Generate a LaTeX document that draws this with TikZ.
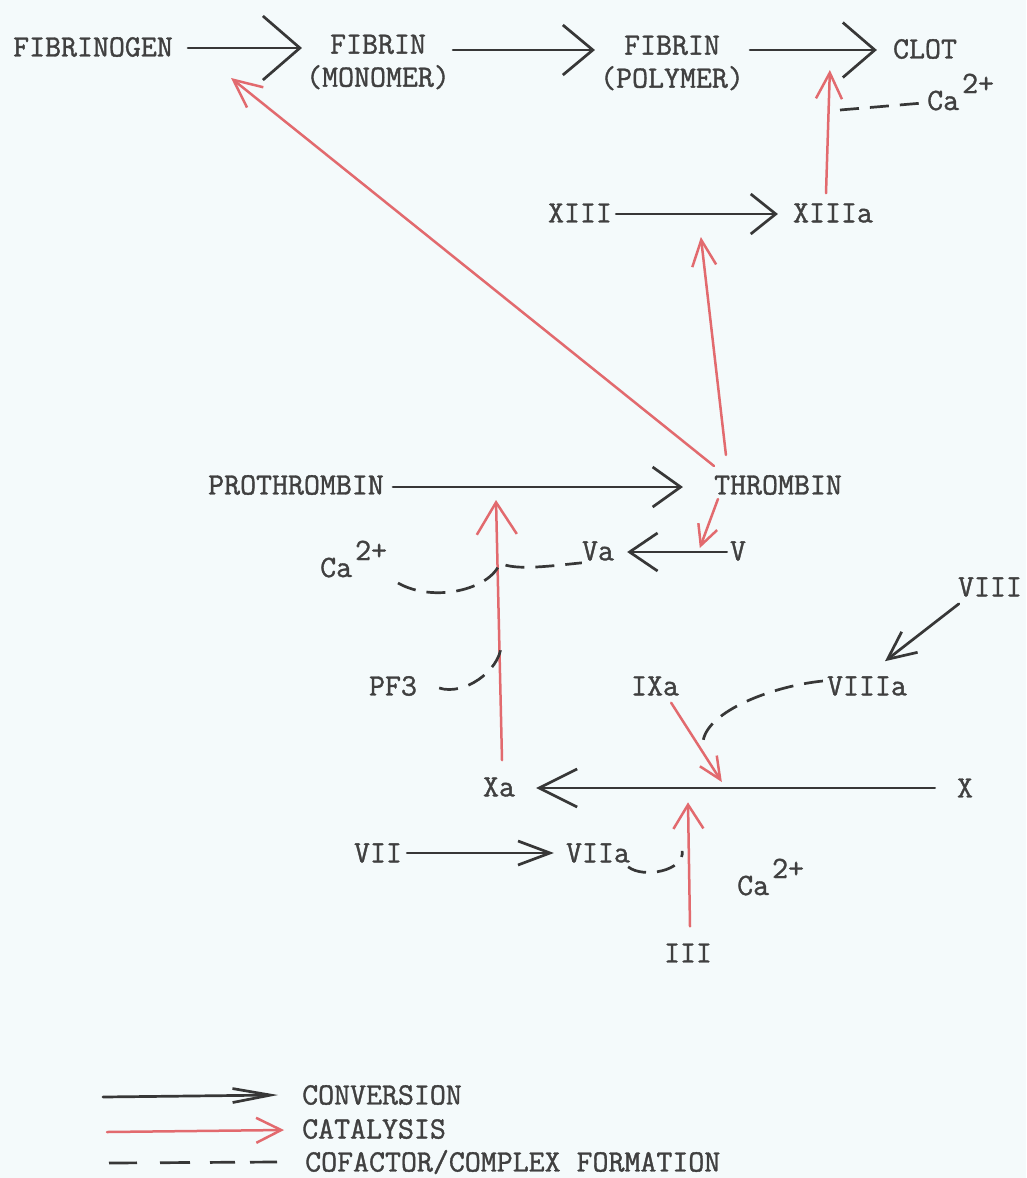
\documentclass[tikz,border=0pt]{standalone}
\usepackage{fontspec}
\newfontfamily\twfont{Latin Modern Mono}[FakeBold=1.2]
\usetikzlibrary{arrows.meta,calc}
\definecolor{bgc}{RGB}{244,250,251}
\definecolor{txtc}{RGB}{64,64,64}
\definecolor{linec}{RGB}{55,55,55}
\definecolor{redc}{RGB}{226,106,110}
\begin{document}
\begin{tikzpicture}[x=1pt,y=-1pt,
  lbl/.style={inner sep=0pt,text=txtc,font=\twfont\fontsize{31}{33}\selectfont,align=center},
  conv/.style 2 args={draw=linec,line width=2.7pt,line cap=round,-{Straight Barb[length=#1pt,width=#2pt]}},
  cat/.style 2 args={draw=redc,line width=2.5pt,line cap=round,-{Straight Barb[length=#1pt,width=#2pt]}},
  cof/.style={draw=linec,line width=2.7pt,dash pattern=on 19pt off 11pt}]
\fill[bgc] (0,0) rectangle (1026,1178);
\useasboundingbox (0,0) rectangle (1026,1178);

% top row
\node[lbl] (fbg) at (93,47) {FIBRINOGEN};
\node[lbl] (fbm) at (378,62) {FIBRIN\\(MONOMER)};
\node[lbl] (fbp) at (672,63) {FIBRIN\\(POLYMER)};
\node[lbl] (clot) at (925,49) {CLOT};
\node[lbl,anchor=base west] (ca1) at (927,110) {Ca\hspace{3pt}\raisebox{17pt}{2+}};

\draw[conv={37}{64}] ($(fbg.east)+(15,1)$) -- ($(fbg.east -| fbm.west)+(-4,1)$);
\draw[conv={30}{50}] ($(fbg.east -| fbm.east)+(3,3)$) -- ($(fbg.east -| fbp.west)+(-5,3)$);
\draw[conv={32}{55}] ($(clot.west -| fbp.east)+(6,1)$) -- ($(clot.west)+(-16,1)$);

% XIII
\node[lbl] (xiii) at (580,213) {XIII};
\node[lbl] (xiiia) at (833,213) {XIIIa};
\draw[conv={25}{40}] ($(xiii.east)+(4,1)$) -- ($(xiiia.west)+(-15,1)$);
\draw[cat={26}{26}] ($(xiiia.north)+(-7,-10)$) -- ($(clot.west)+(-63,21)$);
\draw[cof] ($(ca1.base west)+(-87,0)$) -- ($(ca1.base west)+(-4,-7)$);

% thrombin row
\node[lbl] (pro) at (296,485) {PROTHROMBIN};
\node[lbl] (thr) at (778,485) {THROMBIN};
\draw[conv={28}{40}] ($(pro.east)+(9,2)$) -- ($(thr.west)+(-31,2)$);
\draw[cat={26}{24}] ($(thr.north west)+(12,-20)$) -- ($(xiiia.west)+(-92,24)$);
\draw[cat={28}{26}] ($(thr.north west)+(0,-9)$) -- ($(fbg.east)+(58,31)$);

% V / Va
\node[lbl] (v) at (738,551) {V};
\node[lbl] (va) at (598,551) {Va};
\draw[conv={28}{38}] ($(v.west)+(-3,1)$) -- ($(va.east)+(13,1)$);
\draw[cat={20}{20}] ($(thr.south west)+(4,4)$) -- ($(v.west)+(-30,-3)$);

% Xa and cofactors
\node[lbl] (xa) at (499,787) {Xa};
\node[lbl,anchor=base west] (ca2) at (320,577) {Ca\hspace{3pt}\raisebox{17pt}{2+}};
\node[lbl] (pf3) at (393,686) {PF3};
\draw[cat={32}{40}] ($(xa.north)+(3,-17)$) -- ($(pro.east)+(112,15)$);
\draw[cof] ($(ca2.base west)+(78,6)$) .. controls +(35,20) and +(-10,27) .. ($(xa.north |- va.west)+(1,12)$)
  .. controls +(15,8) and +(-30,3) .. ($(va.south west)+(0,2)$);
\draw[cof] ($(pf3.east)+(22,2)$) .. controls +(25,8) and +(-2,25) .. ($(pf3.east)+(84,-40)$);

% IXa / VIIIa / VIII / X
\node[lbl] (ixa) at (655,686) {IXa};
\node[lbl] (viiia) at (867,686) {VIIIa};
\node[lbl] (viii) at (990,587) {VIII};
\node[lbl] (x) at (965,788) {X};
\draw[conv={38}{38}] ($(x.west)+(-22,0)$) -- ($(xa.east)+(21,1)$);
\draw[cat={22}{20}] ($(ixa.south east)+(-8,7)$) -- ($(x.west)+(-235,-6)$);
\draw[cof] ($(viiia.west)+(-4,-5)$) .. controls +(-50,5) and +(5,-30) .. ($(ixa.south east)+(24,45)$);
\draw[conv={28}{26}] ($(viii.south west)+(1,7)$) -- ($(viiia.north)+(18,-15)$);

% VII / III
\node[lbl] (vii) at (378,853) {VII};
\node[lbl] (viia) at (598,853) {VIIa};
\node[lbl] (iii) at (688,953) {III};
\node[lbl,anchor=base west] (ca3) at (737,895) {Ca\hspace{3pt}\raisebox{17pt}{2+}};
\draw[conv={32}{24}] ($(vii.east)+(5,0)$) -- ($(viia.west)+(-12,0)$);
\draw[cat={24}{30}] ($(iii.north)+(2,-17)$) -- ($(iii.north)+(0,-141)$);
\draw[cof] ($(viia.south east)+(-2,4)$) .. controls +(15,12) and +(3,20) .. ($(viia.south east)+(52,-12)$);

% legend
\node[lbl,anchor=west] (lconv) at (302,1095) {CONVERSION};
\node[lbl,anchor=west] (lcat) at (302,1129) {CATALYSIS};
\node[lbl,anchor=west] (lcof) at (305,1162) {COFACTOR/COMPLEX FORMATION};
\draw[conv={38}{14}] ($(lconv.west)+(-199,2)$) -- ($(lconv.west)+(-24,0)$);
\draw[cat={25}{25}] ($(lcat.west)+(-195,3)$) -- ($(lcat.west)+(-18,1)$);
\draw[cof,dash pattern=on 28pt off 23pt on 30pt off 20pt on 25pt off 15pt on 30pt off 10pt]
  ($(lcof.west)+(-196,1)$) -- ($(lcof.west)+(-28,0)$);
\end{tikzpicture}
\end{document}
